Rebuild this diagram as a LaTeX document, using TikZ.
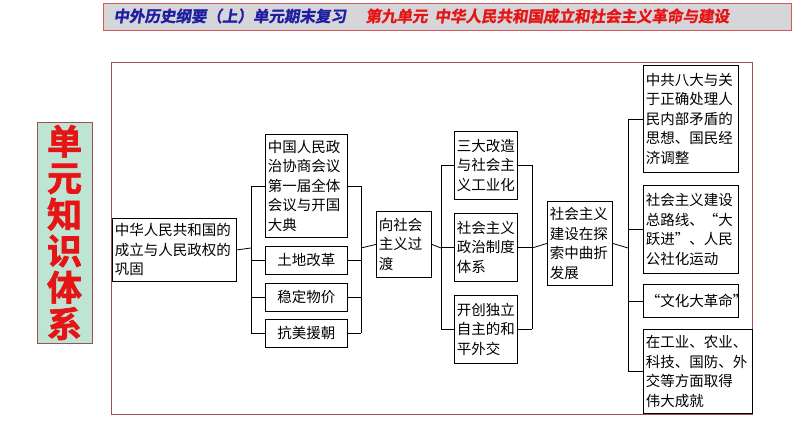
\documentclass[tikz,border=0pt]{standalone}
\usepackage{fontspec}
\setmainfont{Noto Sans CJK SC}
\newfontfamily\titlefont[FakeSlant=0.15,FakeBold=1.5]{Noto Sans CJK SC Bold}
\newfontfamily\boldcjk[FakeBold=2]{Noto Sans CJK SC Bold}
\definecolor{barfill}{RGB}{214,214,218}
\definecolor{barline}{RGB}{215,90,90}
\definecolor{framered}{RGB}{160,80,80}
\definecolor{mint}{RGB}{190,228,212}
\definecolor{titleblue}{RGB}{30,30,160}
\definecolor{titlered}{RGB}{230,20,20}
\begin{document}
\begin{tikzpicture}[x=1pt,y=-1pt,semithick,
  box/.style={draw,thick,fill=white,align=left,inner sep=2.5pt,anchor=north west,
    font=\fontsize{14.5pt}{19.5pt}\selectfont}]
\useasboundingbox (0,0) rectangle (794,447);

% title bar
\draw[barline,fill=barfill] (103,3) rectangle (791,30);
\node[anchor=west,titleblue,font=\titlefont\fontsize{15.5pt}{17pt}\selectfont] (tl) at (110,16) {中外历史纲要（上）单元期末复习};
\node[anchor=west,titlered,font=\titlefont\fontsize{15.5pt}{17pt}\selectfont] (tr) at (362,16) {第九单元\ \ 中华人民共和国成立和社会主义革命与建设};

% frame and side label
\draw[framered] (111,62) rectangle (752,414);
\draw[framered,fill=mint] (37,122) rectangle (92,343);
\node[titlered,align=center,font=\boldcjk\fontsize{35pt}{36.5pt}\selectfont] (side) at (64.5,232.5) {单\\元\\知\\识\\体\\系};

% first column
\node[box,minimum width=124,minimum height=63,text width=119] (A) at (112,218) {中华人民共和国的\\成立与人民政权的\\巩固};
\node[box,minimum width=82,minimum height=103,text width=77] (B1) at (265,134) {中国人民政\\治协商会议\\第一届全体\\会议与开国\\大典};
\node[box,minimum width=82,minimum height=28,align=center,text width=77] (B2) at (265,246) {土地改革};
\node[box,minimum width=82,minimum height=28,align=center,text width=77] (B3) at (265,283) {稳定物价};
\node[box,minimum width=82,minimum height=28,align=center,text width=77] (B4) at (265,319) {抗美援朝};
\node[box,minimum width=55,minimum height=66,text width=50] (C) at (376,211) {向社会\\主义过\\渡};

% second column
\node[box,minimum width=63,minimum height=68,text width=58] (D1) at (454,131) {三大改造\\与社会主\\义工业化};
\node[box,minimum width=63,minimum height=68,text width=58] (D2) at (454,213) {社会主义\\政治制度\\体系};
\node[box,minimum width=63,minimum height=68,text width=58] (D3) at (454,295) {开创独立\\自主的和\\平外交};
\node[box,minimum width=65,minimum height=84,text width=60] (E) at (547,201) {社会主义\\建设在探\\索中曲折\\发展};

% third column
\node[box,minimum width=95,minimum height=107,text width=90] (F1) at (643,65) {中共八大与关\\于正确处理人\\民内部矛盾的\\思想、国民经\\济调整};
\node[box,minimum width=95,minimum height=88,text width=90] (F2) at (643,185) {社会主义建设\\总路线、“大\\跃进”、人民\\公社化运动};
\node[box,minimum width=95,minimum height=33,text width=90] (F3) at (643,284) {“文化大革命”};
\node[box,minimum width=109,minimum height=84,text width=104] (F4) at (643,329) {在工业、农业、\\科技、国防、外\\交等方面取得\\伟大成就};

% brackets
\coordinate (ja) at (251,248);
\coordinate (jb) at (361,248);
\coordinate (jc) at (441,248);
\coordinate (jd) at (532,248);
\coordinate (je) at (628,248);

\draw[thick] (A.east) -- (ja);
\draw[thick] (ja |- B1) -- (ja |- B4);
\foreach \n in {B1,B2,B3,B4} {
  \draw[thick] (ja |- \n) -- (\n.west);
  \draw[thick] (\n.east) -- (jb |- \n);
}
\draw[thick] (jb |- B1) -- (jb |- B4);
\draw[thick] (jb) -- (C.west);
\draw[thick] (C.east) -- (jc);
\draw[thick] (jc |- D1) -- (jc |- D3);
\foreach \n in {D1,D2,D3} {
  \draw[thick] (jc |- \n) -- (\n.west);
  \draw[thick] (\n.east) -- (jd |- \n);
}
\draw[thick] (jd |- D1) -- (jd |- D3);
\draw[thick] (jd) -- (E.west);
\draw[thick] (E.east) -- (je);
\draw[thick] (je |- F1) -- (je |- F4);
\foreach \n in {F1,F2,F3,F4}
  \draw[thick] (je |- \n) -- (\n.west);
\end{tikzpicture}
\end{document}
